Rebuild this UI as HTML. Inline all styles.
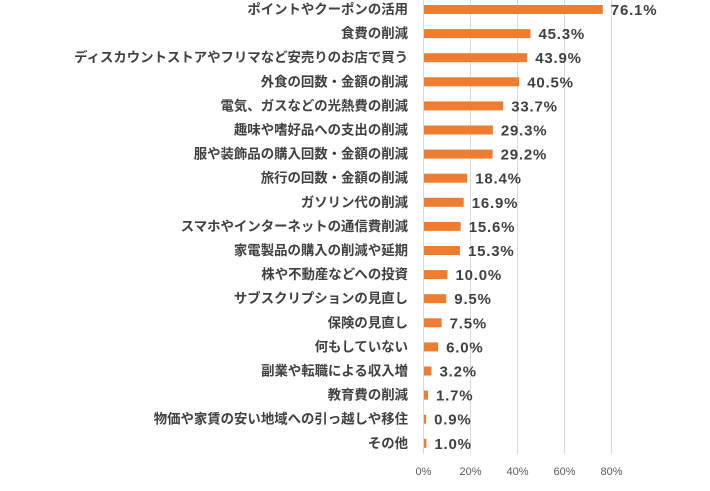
<!DOCTYPE html><html><head><meta charset="utf-8"><style>
body{margin:0;background:#fff;width:710px;height:486px;overflow:hidden}
</style></head><body>
<svg width="710" height="486" xmlns="http://www.w3.org/2000/svg" font-family="'Liberation Sans','Noto Sans CJK JP',sans-serif">
<g stroke="#d9d9d9" stroke-width="1">
<line x1="423.5" y1="0" x2="423.5" y2="454"/><line x1="470.5" y1="0" x2="470.5" y2="454"/><line x1="517.5" y1="0" x2="517.5" y2="454"/><line x1="564.5" y1="0" x2="564.5" y2="454"/><line x1="611.5" y1="0" x2="611.5" y2="454"/>
</g>
<g font-size="11" fill="#595959" text-anchor="middle">
<text x="423.5" y="475">0%</text><text x="470.5" y="475">20%</text><text x="517.5" y="475">40%</text><text x="564.5" y="475">60%</text><text x="611.5" y="475">80%</text>
</g>
<g fill="#ed7d31">
<rect x="424" y="5" width="178.8" height="9"/>
<rect x="424" y="29.1" width="106.5" height="9"/>
<rect x="424" y="53.2" width="103.2" height="9"/>
<rect x="424" y="77.3" width="95.2" height="9"/>
<rect x="424" y="101.4" width="79.2" height="9"/>
<rect x="424" y="125.5" width="68.9" height="9"/>
<rect x="424" y="149.6" width="68.6" height="9"/>
<rect x="424" y="173.7" width="43.2" height="9"/>
<rect x="424" y="197.8" width="39.7" height="9"/>
<rect x="424" y="221.9" width="36.7" height="9"/>
<rect x="424" y="246" width="36" height="9"/>
<rect x="424" y="270.1" width="23.5" height="9"/>
<rect x="424" y="294.2" width="22.3" height="9"/>
<rect x="424" y="318.3" width="17.6" height="9"/>
<rect x="424" y="342.4" width="14.1" height="9"/>
<rect x="424" y="366.5" width="7.5" height="9"/>
<rect x="424" y="390.6" width="4" height="9"/>
<rect x="424" y="414.7" width="2.1" height="9"/>
<rect x="424" y="438.8" width="2.4" height="9"/>
</g>
<g font-size="13.4" font-weight="bold" fill="#404040" text-anchor="end">
<text x="408" y="14">ポイントやクーポンの活用</text>
<text x="408" y="38.1">食費の削減</text>
<text x="408" y="62.2">ディスカウントストアやフリマなど安売りのお店で買う</text>
<text x="408" y="86.3">外食の回数・金額の削減</text>
<text x="408" y="110.4">電気、ガスなどの光熱費の削減</text>
<text x="408" y="134.5">趣味や嗜好品への支出の削減</text>
<text x="408" y="158.6">服や装飾品の購入回数・金額の削減</text>
<text x="408" y="182.7">旅行の回数・金額の削減</text>
<text x="408" y="206.8">ガソリン代の削減</text>
<text x="408" y="230.9">スマホやインターネットの通信費削減</text>
<text x="408" y="255">家電製品の購入の削減や延期</text>
<text x="408" y="279.1">株や不動産などへの投資</text>
<text x="408" y="303.2">サブスクリプションの見直し</text>
<text x="408" y="327.3">保険の見直し</text>
<text x="408" y="351.4">何もしていない</text>
<text x="408" y="375.5">副業や転職による収入増</text>
<text x="408" y="399.6">教育費の削減</text>
<text x="408" y="423.7">物価や家賃の安い地域への引っ越しや移住</text>
<text x="408" y="447.8">その他</text>
</g>
<g font-size="15" font-weight="bold" fill="#404040" letter-spacing="0.8">
<text x="610.8" y="15">76.1%</text>
<text x="538.5" y="39.1">45.3%</text>
<text x="535.2" y="63.2">43.9%</text>
<text x="527.2" y="87.3">40.5%</text>
<text x="511.2" y="111.4">33.7%</text>
<text x="500.9" y="135.5">29.3%</text>
<text x="500.6" y="159.6">29.2%</text>
<text x="475.2" y="183.7">18.4%</text>
<text x="471.7" y="207.8">16.9%</text>
<text x="468.7" y="231.9">15.6%</text>
<text x="468" y="256">15.3%</text>
<text x="455.5" y="280.1">10.0%</text>
<text x="454.3" y="304.2">9.5%</text>
<text x="449.6" y="328.3">7.5%</text>
<text x="446.1" y="352.4">6.0%</text>
<text x="439.5" y="376.5">3.2%</text>
<text x="436" y="400.6">1.7%</text>
<text x="434.1" y="424.7">0.9%</text>
<text x="434.4" y="448.8">1.0%</text>
</g>
</svg>
</body></html>
